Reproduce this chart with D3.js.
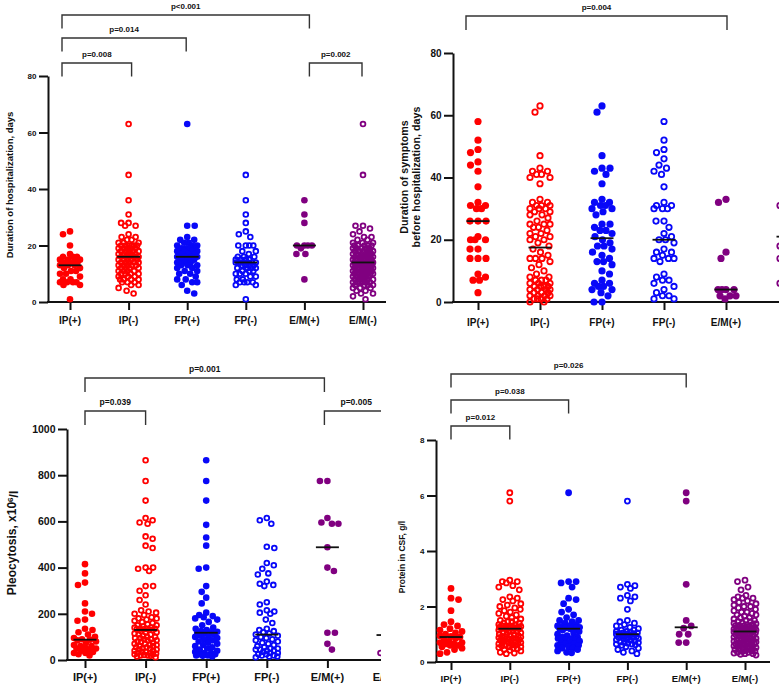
<!DOCTYPE html>
<html><head><meta charset="utf-8">
<script src="https://cdn.jsdelivr.net/npm/d3@7"></script>
<style>
body{margin:0;background:#fff}
svg{display:block}
text{font-family:"Liberation Sans",Arial,sans-serif;font-weight:bold;fill:#111}
</style></head><body>
<svg id="c" width="779" height="689"></svg>
<script>
// ---------- categories & styles ----------
const categories = ["IP(+)","IP(-)","FP(+)","FP(-)","E/M(+)","E/M(-)"];
const groupColors = ["#ff0000","#ff0000","#0808f8","#0808f8","#800080","#800080"];
const groupFilled = [true,false,true,false,true,false];

// ---------- Panel A: duration of hospitalization, days ----------
const hospIPpos = [25,24,20,17,16,16,16,15,15,15,15,14,14,14,13,13,13,12,12,11,11,10,10,9,8,8,7,7,7,7,6,6,1];
const hospIPneg = [63,45,36,31,28,28,27,27,24,23,23,22,22,21,21,21,20,20,20,20,20,20,19,19,19,19,19,18,18,18,18,18,17,17,17,17,17,16,16,16,16,16,16,15,15,15,15,15,14,14,14,14,14,13,13,13,13,13,12,12,12,12,11,11,11,11,10,10,10,10,9,9,9,8,8,8,8,7,7,7,6,6,5,4,3];
const hospFPpos = [63,27,27,23,22,22,21,21,20,20,20,19,19,19,19,18,18,18,18,17,17,17,16,16,16,16,15,15,15,14,14,14,13,13,13,12,12,11,11,10,10,9,8,8,7,7,6,4,3];
const hospFPneg = [45,36,31,28,25,24,23,20,20,20,20,18,18,17,16,16,16,15,15,15,15,14,14,14,14,14,14,14,13,13,13,13,12,12,12,12,11,11,11,10,10,10,9,9,8,8,7,7,7,7,6,6,1];
const hospEMpos = [36,31,28,20,20,20,20,19,17,17,8];
const hospEMneg = [63,45,27,27,26,25,24,23,23,22,22,21,21,21,20,20,20,20,20,19,19,19,19,19,18,18,18,18,18,18,17,17,17,17,17,17,16,16,16,16,16,16,16,15,15,15,15,15,15,15,15,14,14,14,14,14,14,14,14,14,14,14,13,13,13,13,13,13,13,13,13,12,12,12,12,12,12,12,12,11,11,11,11,11,11,11,10,10,10,10,10,10,10,9,9,9,9,9,9,8,8,8,8,8,8,7,7,7,7,7,7,6,6,6,6,5,5,5,4,4,3,3,2,1];
const hospMedians = [13,16,16,14,20,14];
const hospTicks = [0,20,40,60,80];
const hospBrackets = [[0,4,"p<0.001"],[0,2,"p=0.014"],[0,1,"p=0.008"],[4,5,"p=0.002"]];

// ---------- Panel B: duration of symptoms before hospitalization, days ----------
const sympIPpos = [58,52,49,48,45,44,42,37,32,31,31,30,30,26,26,26,21,20,20,20,17,17,14,14,14,9,8,7,7,3];
const sympIPneg = [63,61,47,43,42,42,41,41,40,40,38,33,32,32,31,31,31,30,30,30,29,29,28,28,27,26,25,25,25,24,24,23,22,22,21,21,20,20,19,18,
  17,16,15,14,14,14,13,12,11,10,9,8,8,7,7,7,6,6,6,5,5,5,5,4,4,4,4,3,3,3,2,2,2,2,1,1,1,1,0,0];
const sympFPpos = [63,61,47,43,43,42,41,38,33,32,32,31,31,30,30,29,28,25,25,24,23,23,22,21,
  20,19,18,18,17,16,15,14,13,13,12,10,9,7,6,6,5,5,4,4,3,2,0,0];
const sympFPneg = [58,52,49,48,46,44,43,42,41,37,32,31,31,30,30,30,26,26,24,22,21,20,
  20,19,17,16,16,15,14,14,14,13,9,8,7,7,6,5,4,3,2,2,1,1];
const sympEMpos = [33,32,16,14,4,4,4,4,2,2,2,1];
const sympEMneg = [52,45,40,35,31,31,31,27,24,21,18,18,18,14,14,14,10,6,6,6,2];
const sympMedians = [26,17.5,20.5,20,4,21];
const sympTicks = [0,20,40,60,80];
const sympBrackets = [[0,4,"p=0.004"]];

// ---------- Panel C: pleocytosis, x10^6/l ----------
const pleoIPpos = [415,375,335,325,245,210,200,175,170,135,130,120,110,100,95,90,88,85,80,75,65,60,60,55,50,50,45,40,35,30,30,25,20];
const pleoIPneg = [865,775,690,615,605,595,590,535,525,495,485,400,400,395,385,320,320,300,280,260,240,215,210,205,200,195,185,180,180,175,170,165,160,155,150,150,145,140,140,135,135,135,133,132,131,
  130,125,120,120,115,110,110,105,100,100,95,95,90,90,85,85,80,80,75,70,70,65,65,60,60,55,55,50,50,45,45,40,40,35,35,30,30,28,25,25,22,20,20,18,15,12];
const pleoFPpos = [865,775,690,585,530,495,400,395,320,295,270,245,205,195,190,185,180,175,165,150,140,135,130,125,122,120,
  118,115,110,105,100,100,95,90,85,80,75,70,65,60,55,50,45,40,35,30,30,25,25,20,20,18,15];
const pleoFPneg = [615,605,590,490,485,420,410,395,375,370,340,330,325,320,250,240,215,210,205,200,175,160,135,130,125,120,115,
  110,105,100,95,90,85,80,75,70,65,60,55,50,50,45,45,40,40,35,30,30,25,25,20,20,15,15,12];
const pleoEMpos = [775,775,615,595,590,590,488,400,385,118,118,70,45];
const pleoEMneg = [500,300,200,150,30,30,30];
const pleoMedians = [88,130,118,110,488,108];
const pleoTicks = [0,200,400,600,800,1000];
const pleoBrackets = [[0,4,"p=0.001"],[0,1,"p=0.039"],[4,5,"p=0.005"]];

// ---------- Panel D: protein in CSF, g/l ----------
const protIPpos = [2.65,2.3,2.25,1.85,1.45,1.35,1.3,1.2,1.15,1.1,1.05,1.0,0.95,0.92,0.9,0.85,0.8,0.75,0.7,0.7,0.65,0.65,0.6,0.6,0.55,0.5,0.45,0.35,0.3];
const protIPneg = [6.1,5.8,2.95,2.9,2.9,2.85,2.75,2.7,2.6,2.35,2.3,2.25,2.2,2.1,2.05,2.0,1.95,1.9,1.85,1.8,1.75,1.7,1.65,1.6,1.55,1.5,1.5,1.45,1.45,1.4,1.4,1.35,1.35,1.3,1.3,1.3,1.28,1.26,1.25,1.25,1.24,1.23,1.22,1.21,1.21,
  1.2,1.18,1.15,1.12,1.1,1.1,1.05,1.05,1.0,1.0,0.98,0.95,0.95,0.92,0.9,0.9,0.88,0.85,0.85,0.82,0.8,0.8,0.78,0.75,0.75,0.72,0.7,0.7,0.68,0.65,0.65,0.62,0.6,0.6,0.58,0.55,0.55,0.52,0.5,0.48,0.45,0.42,0.4,0.35,0.32,0.3];
const protFPpos = [6.1,2.9,2.9,2.85,2.7,2.3,2.25,2.1,1.9,1.8,1.7,1.6,1.5,1.5,1.45,1.4,1.35,1.3,1.3,1.28,1.25,1.25,1.23,1.22,1.21,
  1.2,1.15,1.1,1.05,1.0,0.95,0.9,0.9,0.85,0.85,0.8,0.8,0.75,0.7,0.7,0.65,0.65,0.6,0.6,0.55,0.5,0.5,0.45,0.4,0.35,0.33];
const protFPneg = [5.8,2.8,2.75,2.7,2.65,2.4,2.35,2.3,2.2,1.9,1.5,1.45,1.4,1.35,1.3,1.25,1.2,1.15,1.15,1.1,1.1,1.08,1.05,1.05,1.03,1.02,1.01,
  1.0,0.98,0.95,0.95,0.92,0.9,0.9,0.88,0.85,0.85,0.82,0.8,0.78,0.75,0.72,0.7,0.7,0.68,0.65,0.65,0.62,0.6,0.55,0.5,0.45,0.4,0.35,0.3];
const protEMpos = [6.1,5.8,2.8,1.5,1.3,1.22,1.0,1.0,0.7,0.7];
const protEMneg = [2.95,2.9,2.7,2.6,2.4,2.35,2.3,2.3,2.25,2.2,2.15,2.1,2.05,2.0,2.0,1.95,1.9,1.85,1.8,1.8,1.75,1.7,1.7,1.65,1.6,1.6,1.55,1.5,1.5,1.45,1.45,1.4,1.4,1.38,1.35,1.35,1.32,1.3,1.3,1.28,1.25,1.25,1.22,1.2,1.2,1.18,1.18,1.16,1.15,1.15,1.14,1.13,1.12,1.12,1.11,
  1.1,1.08,1.05,1.05,1.02,1.0,1.0,0.98,0.95,0.95,0.92,0.9,0.9,0.88,0.85,0.85,0.82,0.8,0.8,0.78,0.75,0.75,0.72,0.7,0.7,0.7,0.68,0.65,0.65,0.65,0.62,0.6,0.6,0.58,0.55,0.55,0.52,0.5,0.5,0.48,0.45,0.45,0.42,0.4,0.4,0.38,0.35,0.35,0.32,0.3,0.3,0.28,0.25];
const protMedians = [0.9,1.2,1.2,1.0,1.25,1.1];
const protTicks = [0,2,4,6,8];
const protBrackets = [[0,4,"p=0.026"],[0,2,"p=0.038"],[0,1,"p=0.012"]];

// ---------- panel layout (positions / styles only) ----------
const panels = [
  { groups:[hospIPpos,hospIPneg,hospFPpos,hospFPneg,hospEMpos,hospEMneg], medians:hospMedians, ticks:hospTicks, brackets:hospBrackets,
    title:["Duration of hospitalization, days"], titleX:[9.5], titleY:185, titleSize:9.5,
    clip:[0,0,386,334], yRange:[302,76], xRange:[70,363], axisX:48, xEnd:386,
    tickSize:8, catSize:10, catY:320, r:3.3, maxOff:10, hideLabels:[],
    levels:[2,1,0,0], levelY:[63,38,15], drop:13.5, bx:[-8,3,-1,0,5,-1], pSize:8 },
  { groups:[sympIPpos,sympIPneg,sympFPpos,sympFPneg,sympEMpos,sympEMneg], medians:sympMedians, ticks:sympTicks, brackets:sympBrackets,
    title:["Duration of symptoms","before hospitalization, days"], titleX:[404,416.5], titleY:177, titleSize:10.7,
    clip:[390,0,389,334], yRange:[302,53], xRange:[478,788], axisX:453, xEnd:779,
    tickSize:10, catSize:10, catY:322, r:3.6, maxOff:10, hideLabels:[5],
    levels:[0], levelY:[16], drop:14, bx:[-12,0,0,0,1,0], pSize:8 },
  { groups:[pleoIPpos,pleoIPneg,pleoFPpos,pleoFPneg,pleoEMpos,pleoEMneg], medians:pleoMedians, ticks:pleoTicks, brackets:pleoBrackets,
    title:null, titleX:[12], titleY:543, titleSize:12,
    clip:[0,334,381,355], yRange:[660,429], xRange:[85,388], axisX:67, xEnd:381,
    tickSize:10.5, catSize:11, catY:677, r:3.3, maxOff:11, hideLabels:[],
    levels:[1,0,0], levelY:[411,378], drop:14, bx:[0,0,0,0,-3,0], pSize:8.5 },
  { groups:[protIPpos,protIPneg,protFPpos,protFPneg,protEMpos,protEMneg], medians:protMedians, ticks:protTicks, brackets:protBrackets,
    title:["Protein in CSF, g/l"], titleX:[402], titleY:557, titleSize:8.5,
    clip:[390,334,389,355], yRange:[662,440], xRange:[451,745], axisX:436, xEnd:770,
    tickSize:8, catSize:9.5, catY:679, r:3.4, maxOff:11, hideLabels:[],
    levels:[2,1,0], levelY:[426,400,374], drop:13.5, bx:[0,0,0,0,0,0], pSize:8 }
];

// ---------- beeswarm layout ----------
function swarm(values, y, r, maxOff) {
  const pts = values.map(v => ({v, y:y(v), dx:0}));
  pts.sort((a,b) => a.y - b.y);
  const dMin = 2*r + 0.6;
  const cands = [0];
  for (let s = 0.5; s <= maxOff + 1e-9; s += 0.5) cands.push(s, -s);
  const placed = [];
  pts.forEach((p, idx) => {
    const flip = idx % 2 ? -1 : 1;
    let best = 0, bestD = -1;
    for (const c0 of cands) {
      const c = c0 * flip;
      let md = Infinity;
      for (let k = placed.length - 1; k >= 0; k--) {
        const q = placed[k];
        const dy = p.y - q.y;
        if (dy >= dMin) break;
        const d = Math.hypot(q.dx - c, dy);
        if (d < md) md = d;
      }
      if (md >= dMin) { best = c; bestD = md; break; }
      if (md > bestD + 0.01) { bestD = md; best = c; }
    }
    p.dx = best;
    placed.push(p);
  });
  return pts;
}

const svg = d3.select("#c");
const defs = svg.append("defs");

panels.forEach((P, pi) => {
  defs.append("clipPath").attr("id", "clip" + pi).append("rect")
    .attr("x", P.clip[0]).attr("y", P.clip[1]).attr("width", P.clip[2]).attr("height", P.clip[3]);
  const g = svg.append("g").attr("clip-path", `url(#clip${pi})`);
  const y = d3.scaleLinear().domain([0, d3.max(P.ticks)]).range(P.yRange);
  const x = d3.scalePoint().domain(categories).range(P.xRange);

  // y axis
  const ya = g.append("g").attr("transform", `translate(${P.axisX},0)`)
    .call(d3.axisLeft(y).tickValues(P.ticks).tickFormat(d3.format("d")).tickSize(9).tickSizeOuter(0).tickPadding(2.5));
  ya.select(".domain").attr("stroke", "#111").attr("stroke-width", 2);
  ya.selectAll(".tick line").attr("stroke", "#111").attr("stroke-width", 2);
  ya.selectAll(".tick text").style("font-size", P.tickSize + "px");

  // x axis line + ticks
  g.append("line").attr("x1", P.axisX - 1).attr("x2", P.xEnd)
    .attr("y1", y(0)).attr("y2", y(0)).attr("stroke", "#111").attr("stroke-width", 2);
  const xa = g.append("g").attr("transform", `translate(0,${y(0)})`)
    .call(d3.axisBottom(x).tickSize(8).tickSizeOuter(0).tickPadding(3));
  xa.select(".domain").remove();
  xa.selectAll(".tick line").attr("stroke", "#111").attr("stroke-width", 2);
  xa.selectAll(".tick text").remove();
  g.selectAll(".catlab").data(categories.filter((d, i) => !P.hideLabels.includes(i))).join("text")
    .attr("x", d => x(d)).attr("y", P.catY).attr("dy", "0.35em")
    .attr("text-anchor", "middle").style("font-size", P.catSize + "px").text(d => d);

  // points
  P.groups.forEach((vals, gi) => {
    const pts = swarm(vals, y, P.r, P.maxOff);
    const cx = x(categories[gi]);
    const filled = groupFilled[gi], col = groupColors[gi];
    g.append("g").selectAll("circle").data(pts).join("circle")
      .attr("cx", d => cx + d.dx).attr("cy", d => d.y)
      .attr("r", filled ? P.r : P.r - 0.9)
      .attr("fill", filled ? col : "none")
      .attr("stroke", filled ? "none" : col)
      .attr("stroke-width", filled ? 0 : 1.8);
  });

  // medians
  g.selectAll(".med").data(P.medians).join("line")
    .attr("x1", (d, i) => x(categories[i]) - 11.5).attr("x2", (d, i) => x(categories[i]) + 11.5)
    .attr("y1", d => y(d)).attr("y2", d => y(d))
    .attr("stroke", "#111").attr("stroke-width", 1.8);

  // brackets
  P.brackets.forEach((b, bi) => {
    const x1 = x(categories[b[0]]) + P.bx[b[0]];
    const x2 = x(categories[b[1]]) + P.bx[b[1]];
    const yy = P.levelY[P.levels[bi]];
    g.append("path")
      .attr("d", `M${x1},${yy + P.drop}V${yy}H${x2}V${yy + P.drop}`)
      .attr("fill", "none").attr("stroke", "#333").attr("stroke-width", 1.4);
    g.append("text").attr("x", (x1 + x2) / 2).attr("y", yy - 6)
      .attr("text-anchor", "middle").style("font-size", P.pSize + "px").text(b[2]);
  });

  // y title
  if (P.title) {
    P.title.forEach((t, li) => {
      g.append("text").attr("transform", `translate(${P.titleX[li]},${P.titleY}) rotate(-90)`)
        .attr("text-anchor", "middle").attr("dy", "0.35em")
        .style("font-size", P.titleSize + "px").text(t);
    });
  } else {
    const t = g.append("text").attr("transform", `translate(${P.titleX[0]},${P.titleY}) rotate(-90)`)
      .attr("text-anchor", "middle").attr("dy", "0.35em").style("font-size", P.titleSize + "px");
    t.append("tspan").text("Pleocytosis, x10");
    t.append("tspan").attr("dy", "-0.45em").style("font-size", "8px").text("6");
    t.append("tspan").attr("dy", "0.45em").text("/l");
  }
});
</script>
</body></html>
